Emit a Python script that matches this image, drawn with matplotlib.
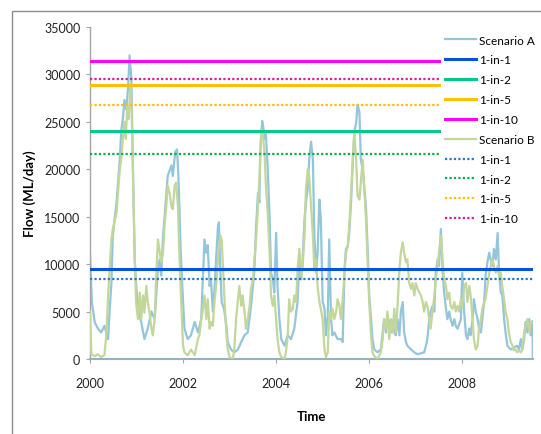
import matplotlib
matplotlib.use("Agg")
import matplotlib.pyplot as plt
from matplotlib.patches import Rectangle

# ---------------- data (flows in ML/day, time in decimal years) ----------------
a_time = [2000.00, 2000.04, 2000.10, 2000.17, 2000.24, 2000.31, 2000.39, 2000.42, 2000.46, 2000.49,
          2000.57, 2000.64, 2000.67, 2000.71, 2000.74, 2000.78, 2000.82, 2000.85, 2000.89, 2000.92,
          2000.96, 2000.99, 2001.03, 2001.10, 2001.17, 2001.24, 2001.32, 2001.39, 2001.46, 2001.50,
          2001.53, 2001.57, 2001.60, 2001.67, 2001.75, 2001.78, 2001.83, 2001.87, 2001.90, 2001.95,
          2002.00, 2002.03, 2002.10, 2002.17, 2002.25, 2002.32, 2002.39, 2002.46, 2002.50, 2002.53,
          2002.57, 2002.60, 2002.64, 2002.68, 2002.71, 2002.75, 2002.77, 2002.80, 2002.83, 2002.88,
          2002.93, 2002.96, 2003.03, 2003.10, 2003.18, 2003.25, 2003.32, 2003.39, 2003.46, 2003.53,
          2003.57, 2003.61, 2003.64, 2003.66, 2003.70, 2003.73, 2003.75, 2003.78, 2003.82, 2003.86,
          2003.89, 2003.93, 2003.96, 2004.00, 2004.03, 2004.07, 2004.11, 2004.18, 2004.25, 2004.32,
          2004.39, 2004.46, 2004.50, 2004.54, 2004.57, 2004.61, 2004.64, 2004.68, 2004.71, 2004.75,
          2004.79, 2004.82, 2004.86, 2004.89, 2004.93, 2004.96, 2005.00, 2005.04, 2005.07, 2005.11,
          2005.14, 2005.18, 2005.21, 2005.25, 2005.32, 2005.39, 2005.43, 2005.47, 2005.50, 2005.54,
          2005.57, 2005.61, 2005.64, 2005.68, 2005.72, 2005.75, 2005.79, 2005.82, 2005.86, 2005.89,
          2005.93, 2005.97, 2006.00, 2006.04, 2006.07, 2006.11, 2006.18, 2006.25, 2006.32, 2006.36,
          2006.39, 2006.43, 2006.47, 2006.50, 2006.54, 2006.57, 2006.61, 2006.65, 2006.68, 2006.72,
          2006.75, 2006.79, 2006.82, 2006.90, 2006.97, 2007.04, 2007.11, 2007.18, 2007.22, 2007.25,
          2007.29, 2007.32, 2007.36, 2007.40, 2007.43, 2007.47, 2007.50, 2007.54, 2007.58, 2007.61,
          2007.65, 2007.68, 2007.72, 2007.75, 2007.79, 2007.83, 2007.86, 2007.90, 2007.97, 2008.00,
          2008.04, 2008.08, 2008.11, 2008.15, 2008.18, 2008.22, 2008.25, 2008.29, 2008.33, 2008.36,
          2008.40, 2008.43, 2008.47, 2008.50, 2008.54, 2008.58, 2008.61, 2008.65, 2008.68, 2008.72,
          2008.76, 2008.79, 2008.83, 2008.86, 2008.90, 2008.93, 2008.97, 2009.04, 2009.11, 2009.18,
          2009.22, 2009.26, 2009.29, 2009.33, 2009.36, 2009.40, 2009.44, 2009.47, 2009.51, 2009.515]
a_flow = [11000, 6000, 3900, 3200, 2800, 3500, 2100, 5000, 8000, 13000,
          16500, 21000, 24000, 25500, 27300, 26300, 28800, 32000, 29500, 21000,
          10500, 8000, 5300, 3900, 2100, 3200, 5000, 4200, 9500, 10500,
          8800, 13000, 14800, 19300, 20400, 19300, 21800, 22100, 19300, 11200,
          6000, 3200, 2100, 2500, 3900, 2800, 4200, 12600, 11200, 12000,
          7700, 8400, 5000, 7700, 10500, 14000, 14400, 9500, 6000, 5300,
          3500, 1800, 1000, 700, 1000, 1800, 2500, 2800, 5600, 9100,
          14000, 17500, 16500, 21800, 25100, 24200, 23200, 23700, 20000, 14800,
          9100, 8400, 7000, 13300, 7700, 4200, 2100, 1400, 2500, 2100,
          3200, 6000, 10500, 8400, 10500, 14800, 16500, 18000, 21000, 22900,
          21000, 13200, 9100, 11200, 16800, 14800, 6000, 5300, 2500, 4600,
          12600, 4200, 2500, 2800, 2100, 2100, 1800, 9500, 11600, 11900,
          13300, 16500, 20000, 23900, 24900, 26800, 26000, 21000, 20000, 18300,
          16100, 11200, 6700, 4200, 2100, 1000, 700, 1000, 4200, 2800,
          4600, 3900, 2800, 3900, 2800, 2500, 4200, 2500, 5000, 6000,
          2800, 1800, 1400, 1000, 700, 500, 600, 700, 1400, 2100,
          4200, 5000, 5600, 5000, 9100, 10500, 9800, 13700, 9100, 7000,
          5300, 4200, 5000, 4200, 3500, 4200, 3500, 3200, 4200, 9100,
          5000, 2500, 2100, 3200, 2500, 4200, 6300, 5000, 4200, 3200,
          2800, 4200, 6000, 8800, 10200, 11200, 10500, 9800, 11600, 10500,
          13300, 9100, 7000, 6700, 4200, 2800, 1400, 1000, 1200, 1400,
          1000, 2100, 1000, 2100, 3900, 2800, 4200, 2500, 4000, 0]

b_time = [2000.00, 2000.03, 2000.10, 2000.17, 2000.24, 2000.31, 2000.35, 2000.40, 2000.46, 2000.49,
          2000.57, 2000.64, 2000.67, 2000.71, 2000.74, 2000.77, 2000.80, 2000.83, 2000.87, 2000.89,
          2000.92, 2000.96, 2000.99, 2001.03, 2001.07, 2001.10, 2001.14, 2001.17, 2001.21, 2001.24,
          2001.28, 2001.32, 2001.35, 2001.39, 2001.42, 2001.46, 2001.50, 2001.53, 2001.57, 2001.60,
          2001.64, 2001.67, 2001.71, 2001.75, 2001.78, 2001.82, 2001.85, 2001.89, 2001.92, 2001.96,
          2002.00, 2002.03, 2002.10, 2002.17, 2002.25, 2002.32, 2002.35, 2002.39, 2002.42, 2002.46,
          2002.50, 2002.53, 2002.57, 2002.60, 2002.64, 2002.68, 2002.71, 2002.76, 2002.80, 2002.83,
          2002.86, 2002.89, 2002.93, 2002.96, 2003.00, 2003.07, 2003.10, 2003.14, 2003.18, 2003.21,
          2003.25, 2003.28, 2003.32, 2003.35, 2003.39, 2003.43, 2003.46, 2003.50, 2003.53, 2003.57,
          2003.61, 2003.64, 2003.68, 2003.71, 2003.75, 2003.78, 2003.82, 2003.86, 2003.89, 2003.93,
          2003.96, 2004.00, 2004.03, 2004.07, 2004.11, 2004.18, 2004.21, 2004.25, 2004.28, 2004.32,
          2004.36, 2004.39, 2004.43, 2004.46, 2004.50, 2004.54, 2004.57, 2004.61, 2004.64, 2004.68,
          2004.71, 2004.75, 2004.79, 2004.82, 2004.86, 2004.89, 2004.93, 2004.96, 2005.00, 2005.04,
          2005.07, 2005.11, 2005.14, 2005.18, 2005.21, 2005.25, 2005.29, 2005.32, 2005.36, 2005.39,
          2005.43, 2005.47, 2005.50, 2005.54, 2005.57, 2005.61, 2005.64, 2005.68, 2005.72, 2005.75,
          2005.79, 2005.82, 2005.86, 2005.89, 2005.93, 2005.97, 2006.00, 2006.04, 2006.07, 2006.11,
          2006.18, 2006.25, 2006.29, 2006.32, 2006.36, 2006.39, 2006.43, 2006.47, 2006.50, 2006.54,
          2006.57, 2006.61, 2006.65, 2006.68, 2006.72, 2006.75, 2006.79, 2006.82, 2006.86, 2006.90,
          2006.93, 2006.97, 2007.00, 2007.04, 2007.11, 2007.15, 2007.18, 2007.22, 2007.25, 2007.29,
          2007.32, 2007.36, 2007.40, 2007.43, 2007.47, 2007.50, 2007.54, 2007.58, 2007.61, 2007.65,
          2007.68, 2007.72, 2007.75, 2007.79, 2007.83, 2007.86, 2007.90, 2007.93, 2007.97, 2008.00,
          2008.04, 2008.08, 2008.11, 2008.15, 2008.18, 2008.22, 2008.25, 2008.29, 2008.33, 2008.36,
          2008.40, 2008.43, 2008.47, 2008.50, 2008.54, 2008.58, 2008.61, 2008.65, 2008.68, 2008.72,
          2008.76, 2008.79, 2008.83, 2008.86, 2008.90, 2008.93, 2008.97, 2009.00, 2009.04, 2009.08,
          2009.11, 2009.15, 2009.18, 2009.22, 2009.26, 2009.29, 2009.33, 2009.36, 2009.40, 2009.44,
          2009.47, 2009.51]
b_flow = [5000, 500, 300, 500, 200, 400, 2500, 7700, 12600, 13700,
          15400, 20000, 21000, 23500, 25000, 23200, 26700, 25300, 29000, 27000,
          20000, 11200, 6000, 4200, 7000, 4200, 6700, 4900, 7700, 6000,
          4900, 3200, 2500, 4200, 8400, 12600, 11200, 10200, 11200, 14000,
          16100, 18300, 17500, 16100, 15800, 18300, 18600, 16100, 11200, 6000,
          1400, 700, 400, 1000, 400, 2100, 2500, 4200, 5000, 6700,
          4200, 6300, 3200, 3900, 3500, 6300, 7700, 11200, 13000, 12600,
          9500, 6300, 2800, 1000, 200, 0, 1000, 4200, 6300, 7700,
          5600, 6700, 5000, 3200, 4200, 5600, 7400, 8400, 10200, 12600,
          16100, 18900, 24200, 23900, 21800, 18300, 15400, 11200, 6700, 5600,
          6700, 4200, 2100, 700, 200, 0, 700, 2500, 6300, 5000,
          5300, 6700, 6000, 9500, 11600, 8800, 9800, 13000, 17900, 20000,
          19300, 16100, 13000, 9500, 10500, 7700, 6000, 5300, 4200, 1000,
          200, 700, 5000, 4200, 5300, 4200, 5000, 6300, 5600, 4200,
          6300, 9100, 11200, 11900, 14000, 17500, 20400, 23900, 21000, 17200,
          16800, 18600, 21000, 18300, 14800, 9800, 6000, 2500, 700, 300,
          0, 700, 2100, 4200, 3200, 5000, 2100, 4200, 2800, 5300,
          2800, 5600, 9500, 11200, 12300, 11200, 10200, 10500, 8000, 7400,
          8000, 6700, 8000, 7400, 6700, 6000, 5000, 6000, 5600, 4200,
          3200, 5000, 6700, 8400, 9800, 11200, 13000, 10200, 8400, 7700,
          6300, 7000, 5600, 5300, 6000, 5000, 5600, 5000, 6300, 5600,
          7700, 8000, 6000, 7700, 6700, 4200, 2100, 1000, 1400, 3200,
          4200, 5300, 6000, 6300, 7700, 9100, 9800, 10500, 9800, 9100,
          9800, 8800, 9100, 7700, 6300, 5000, 4200, 2800, 1800, 1400,
          900, 1000, 700, 900, 700, 1000, 2800, 3500, 4200, 2800,
          3900, 3800]

a_thresh_labels = ["1-in-1", "1-in-2", "1-in-5", "1-in-10"]
a_thresh_values = [9500, 24000, 28900, 31400]
b_thresh_labels = ["1-in-1", "1-in-2", "1-in-5", "1-in-10"]
b_thresh_values = [8400, 21600, 26800, 29500]

x_ticks = [2000, 2002, 2004, 2006, 2008]
y_ticks = [0, 5000, 10000, 15000, 20000, 25000, 30000, 35000]

# ---------------- styling ----------------
col_a = "#93c6da"
col_b = "#c3d69b"
solid_cols = ["#0553dc", "#00c98c", "#ffc000", "#ff00ff"]
dot_cols = ["#1e7bd6", "#00b050", "#ffc000", "#dd1aa0"]

plt.rcParams["font.family"] = ["Lato", "DejaVu Sans"]

W, H = 541, 435
fig = plt.figure(figsize=(W / 100, H / 100), dpi=100)
fig.patch.set_facecolor("white")

# chart frame
fig.patches.append(Rectangle((12 / W, -0.2), 1.2, 1.2 - 12 / H,
                             transform=fig.transFigure, fill=False,
                             edgecolor="#8c8c8c", linewidth=1.0))

ax = fig.add_axes([90 / W, 1 - 360 / H, (533 - 90) / W, (360 - 28) / H])

handles = []
la, = ax.plot(a_time, a_flow, color=col_a, lw=1.6, label="Scenario A", zorder=2)
handles.append(la)
for lab, v, c in zip(a_thresh_labels, a_thresh_values, solid_cols):
    h = ax.axhline(v, color=c, lw=2.2, label=lab, zorder=4)
    handles.append(h)
lb, = ax.plot(b_time, b_flow, color=col_b, lw=1.6, label="Scenario B", zorder=3)
handles.append(lb)
for lab, v, c in zip(b_thresh_labels, b_thresh_values, dot_cols):
    h = ax.axhline(v, color=c, lw=1.6, ls=(0, (1, 1.0)), label=lab, zorder=4)
    handles.append(h)

ax.set_xlim(2000, 2009.52)
ax.set_ylim(0, 35000)
ax.set_xticks(x_ticks)
ax.set_xticklabels([str(t) for t in x_ticks])
ax.set_yticks(y_ticks)
ax.set_yticklabels([str(t) for t in y_ticks])

for s in ["top", "right"]:
    ax.spines[s].set_visible(False)
ax.spines["left"].set_color("#a6a6a6")
ax.spines["left"].set_linewidth(1.0)
ax.spines["bottom"].set_color("#8fb4c8")
ax.spines["bottom"].set_linewidth(1.5)
ax.tick_params(axis="both", direction="out", length=3, width=0.8,
               color="#a6a6a6", labelsize=9, labelcolor="#222222", pad=4)
ax.tick_params(axis="x", pad=10)

ax.set_ylabel("Flow (ML/day)", fontsize=9.5, fontweight="bold", labelpad=6)
ax.set_xlabel("Time", fontsize=9.5, fontweight="bold", labelpad=15)

leg = ax.legend(handles=handles, loc="upper left",
                bbox_to_anchor=(441 / W, 1 - 32 / H), bbox_transform=fig.transFigure,
                frameon=True, framealpha=1.0, facecolor="white", edgecolor="none",
                fontsize=8.5, handlelength=2.7, handletextpad=0.25,
                labelspacing=0.75, borderpad=0.3, borderaxespad=0)
leg.set_zorder(10)

fig.savefig("out.png", dpi=100, facecolor="white")
